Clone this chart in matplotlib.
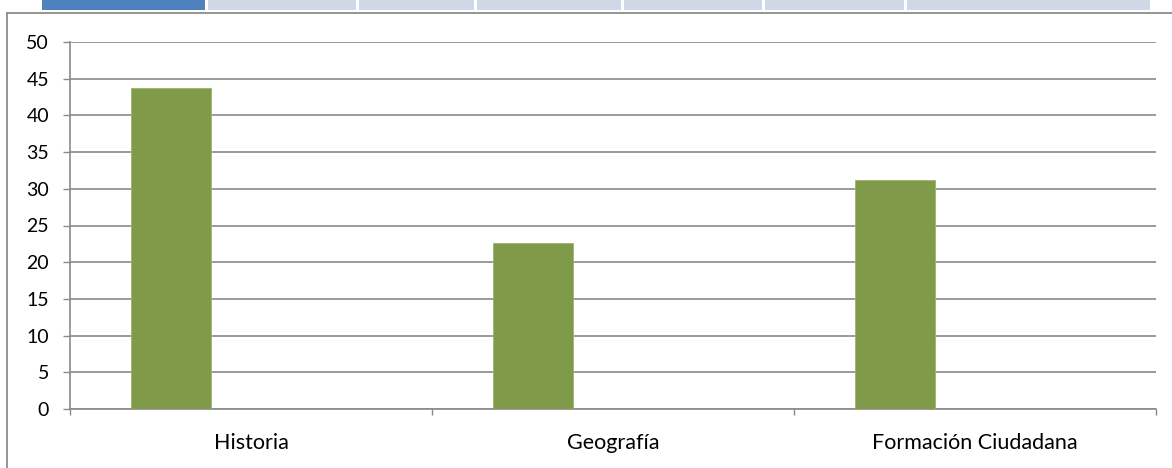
import matplotlib
matplotlib.use("Agg")
import matplotlib.pyplot as plt
from matplotlib.lines import Line2D
from matplotlib.patches import Rectangle
import numpy as np

# data
categories = ["Historia", "Geografía", "Formación Ciudadana"]
values = [43.7, 22.6, 31.2]
y_ticks = list(range(0, 55, 5))

# tab strip on top (pixel spans)
tab_spans = [(42, 205), (208, 356), (359, 474), (477, 621), (624, 762), (765, 904), (907, 1150)]

W, H = 1172, 468
plt.rcParams['font.family'] = ['Lato', 'DejaVu Sans']

fig = plt.figure(figsize=(W / 100, H / 100), dpi=100)
fig.patch.set_facecolor('white')

# tabs
for k, (x0, x1) in enumerate(tab_spans):
    color = '#4f81bd' if k == 0 else '#d0d8e8'
    fig.add_artist(Rectangle((x0 / W, 1 - 10 / H), (x1 - x0) / W, 10 / H,
                             transform=fig.transFigure, facecolor=color, edgecolor='none'))

# chart frame (runs off the right and bottom)
frame_col = '#8c8c8c'
fig.add_artist(Line2D([7 / W, 1], [1 - 12.5 / H, 1 - 12.5 / H], transform=fig.transFigure,
                      color=frame_col, lw=1.3))
fig.add_artist(Line2D([7 / W, 7 / W], [0, 1 - 12.5 / H], transform=fig.transFigure,
                      color=frame_col, lw=1.3))

ax = fig.add_axes([70 / W, (H - 409) / H, (1156 - 70) / W, (409 - 42) / H])
n = len(categories)
x = np.arange(n)
width = 80 / 362
ax.bar(x - width, values, width=width, color='#7f9b4a', edgecolor='#9cb56a', linewidth=0.6, zorder=3)

ax.set_xlim(-0.5, n - 0.5)
ax.set_ylim(0, 50)
ax.set_yticks(y_ticks)
ax.yaxis.grid(True, color='#8a8a8a', linewidth=1.2, zorder=0)
ax.set_axisbelow(True)

# category boundary ticks, labels in between
ax.set_xticks(np.arange(-0.5, n, 1.0))
ax.set_xticklabels([])
ax.set_xticks(x, minor=True)
ax.set_xticklabels(categories, minor=True)
ax.tick_params(axis='x', which='major', direction='out', length=4, color='#8a8a8a', width=1)
ax.tick_params(axis='x', which='minor', length=0, pad=17, labelsize=15.5)
ax.tick_params(axis='y', direction='out', length=5, color='#8a8a8a', width=1, pad=10, labelsize=14)

for s in ['top', 'right']:
    ax.spines[s].set_visible(False)
for s in ['left', 'bottom']:
    ax.spines[s].set_color('#8a8a8a')
    ax.spines[s].set_linewidth(1.2)

fig.savefig('out.png', dpi=100)
